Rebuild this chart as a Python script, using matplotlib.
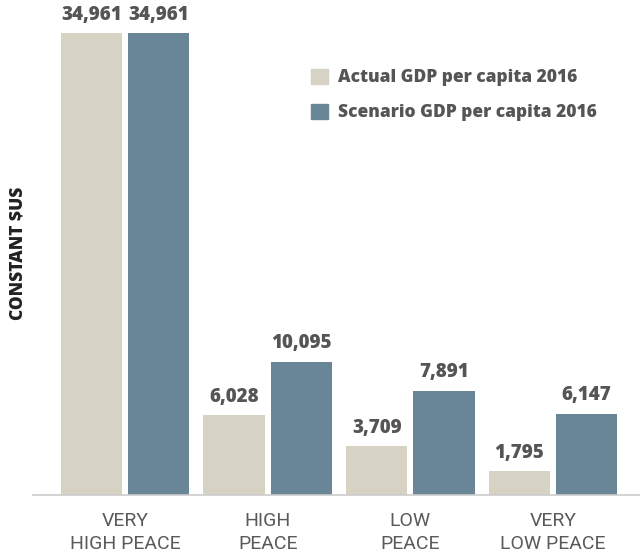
import numpy as np
import matplotlib.pyplot as plt
from matplotlib.patches import Patch

# Data
categories = ["VERY\nHIGH PEACE", "HIGH\nPEACE", "LOW\nPEACE", "VERY\nLOW PEACE"]
actual_gdp = [34961, 6028, 3709, 1795]
scenario_gdp = [34961, 10095, 7891, 6147]
series_names = ["Actual GDP per capita 2016", "Scenario GDP per capita 2016"]

ACTUAL_COLOR = "#D6D2C4"
SCENARIO_COLOR = "#688695"
TEXT_COLOR = "#555555"

plt.rcParams['font.family'] = ['Roboto', 'DejaVu Sans']
BOLD_FONT = ['Open Sans', 'DejaVu Sans']
HEAVY = 800

fig = plt.figure(figsize=(6.4, 5.59), dpi=100)
# axes spans from x=33px to right edge, baseline at y=495px
ax = fig.add_axes([33 / 640, 64 / 559, 607 / 640, 495 / 559])

x = np.arange(len(categories))
width = 0.43
offset = 0.236

bars_a = ax.bar(x - offset, actual_gdp, width, color=ACTUAL_COLOR, label=series_names[0])
bars_s = ax.bar(x + offset, scenario_gdp, width, color=SCENARIO_COLOR, label=series_names[1])

for bars in (bars_a, bars_s):
    for b in bars:
        h = b.get_height()
        ax.annotate(f"{h:,.0f}", (b.get_x() + b.get_width() / 2, h),
                    xytext=(0, 6), textcoords="offset points",
                    ha="center", va="bottom", fontsize=13.5, fontweight=HEAVY,
                    family=BOLD_FONT, color=TEXT_COLOR)

ax.set_xlim(-0.645, 3.61)
ax.set_ylim(0, 34961 * 495 / 462)

ax.set_xticks(x)
ax.set_xticklabels(categories, fontsize=14, color="#5a5a5a", linespacing=1.3)
ax.tick_params(axis="x", length=0, pad=12.5)
ax.set_yticks([])

for side in ("top", "right", "left"):
    ax.spines[side].set_visible(False)
ax.spines["bottom"].set_color("#cccccc")
ax.spines["bottom"].set_linewidth(1.2)

fig.text(18 / 640, 1 - 253 / 559, "CONSTANT $US", rotation=90, ha="center", va="center",
         fontsize=12.5, fontweight=HEAVY, family=BOLD_FONT, color="#222222")

handles = [Patch(color=ACTUAL_COLOR), Patch(color=SCENARIO_COLOR)]
leg = ax.legend(handles, series_names, loc="upper left",
                bbox_to_anchor=(302 / 640, 1 - 60 / 559), bbox_transform=fig.transFigure,
                frameon=False, handlelength=1.0, handleheight=1.0, handletextpad=0.6,
                labelspacing=1.0, borderpad=0,
                prop={"size": 12.5, "weight": HEAVY, "family": BOLD_FONT})
for t in leg.get_texts():
    t.set_color(TEXT_COLOR)

fig.savefig("out.png", dpi=100)
